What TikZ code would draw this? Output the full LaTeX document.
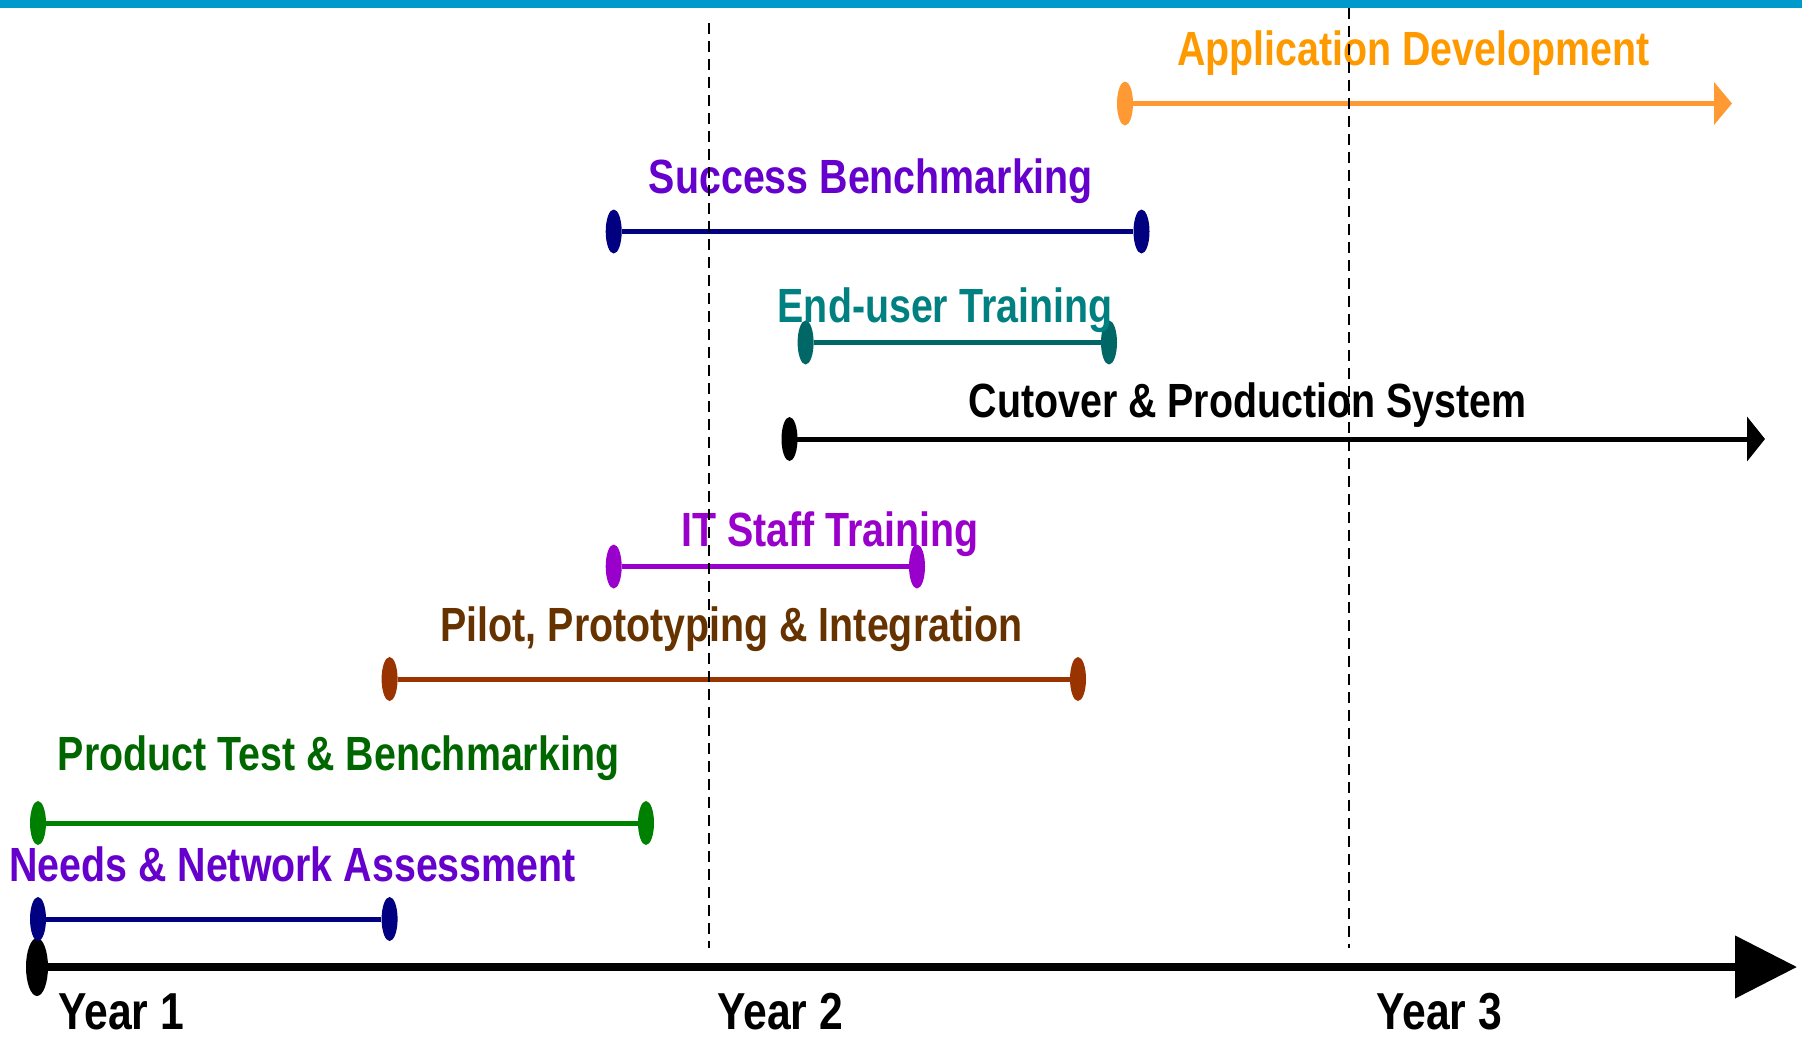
\documentclass[tikz,border=0pt]{standalone}
\usepackage{fontspec}
\setmainfont{Liberation Sans}[FakeStretch=0.82]
\usetikzlibrary{shapes.geometric,arrows.meta}

\definecolor{barblue}{HTML}{0099CC}
\definecolor{orangeT}{HTML}{FF9900}
\definecolor{orangeL}{HTML}{FF9933}
\definecolor{purpleT}{HTML}{6600CC}
\definecolor{navyL}{HTML}{000080}
\definecolor{tealT}{HTML}{008080}
\definecolor{tealL}{HTML}{006666}
\definecolor{violetT}{HTML}{9900CC}
\definecolor{brownT}{HTML}{663300}
\definecolor{rustL}{HTML}{993300}
\definecolor{greenT}{HTML}{006600}
\definecolor{greenL}{HTML}{008000}

\newcommand{\tasksize}{\fontsize{48bp}{50bp}\selectfont\bfseries}
\newcommand{\yearsize}{\fontsize{52bp}{54bp}\selectfont\bfseries}

\tikzset{
  endmark/.style={shape=ellipse, minimum width=16bp, minimum height=44bp,
                  inner sep=0pt, draw=none, fill=#1},
  tasklabel/.style={anchor=base, inner sep=0pt, text=#1, font=\tasksize},
  yearlabel/.style={anchor=base west, inner sep=0pt, text=black, font=\yearsize},
  spanline/.style={line width=5bp, draw=#1},
  opentip/.style={-{Triangle[length=18bp,width=42bp]}},
  yeardiv/.style={line width=2.6bp, draw=black, dash pattern=on 11bp off 7bp},
}

\begin{document}
\begin{tikzpicture}[x=1bp, y=-1bp]
  \useasboundingbox (0,0) rectangle (1802,1038);
  % banner strip
  \fill[barblue] (0,0) rectangle (1802,7.5);

  % time axis
  \node[endmark=black, minimum width=22bp, minimum height=58bp] (ax0) at (37,967) {};
  \coordinate (ax1) at (1797,967);
  \draw[line width=8bp, -{Triangle[length=62bp,width=61bp]}] (ax0.center) -- (ax1);
  \node[yearlabel] (y1) at (58,1029) {Year 1};
  \node[yearlabel] (y2) at (717,1029) {Year 2};
  \node[yearlabel] (y3) at (1376,1029) {Year 3};

  % Application Development
  \node[endmark=orangeL] (ad1) at (1125,103.5) {};
  \coordinate (ad2) at (1732,103.5);
  \draw[spanline=orangeL, opentip] (ad1.center) -- (ad2);
  \node[tasklabel=orangeT] (adt) at (1413.5,65.7) {Application Development};

  % Success Benchmarking
  \node[endmark=navyL] (sb1) at (613.7,231.5) {};
  \node[endmark=navyL] (sb2) at (1141.5,231.5) {};
  \draw[spanline=navyL] (sb1) -- (sb2);
  \node[tasklabel=purpleT] (sbt) at (871,193) {Success Benchmarking};

  % End-user Training
  \node[endmark=tealL] (eu1) at (805.6,342.5) {};
  \node[endmark=tealL] (eu2) at (1109,342.5) {};
  \draw[spanline=tealL] (eu1) -- (eu2);
  \node[tasklabel=tealT] (eut) at (945,322) {End-user Training};

  % Cutover & Production System
  \node[endmark=black] (cp1) at (789.5,439) {};
  \coordinate (cp2) at (1765,439);
  \draw[spanline=black, -{Triangle[length=18bp,width=44bp]}] (cp1.center) -- (cp2);
  \node[tasklabel=black] (cpt) at (1247.5,417) {Cutover \& Production System};

  % IT Staff Training
  \node[endmark=violetT] (it1) at (613.7,566.5) {};
  \node[endmark=violetT] (it2) at (917,566.5) {};
  \draw[spanline=violetT] (it1) -- (it2);
  \node[tasklabel=violetT] (itt) at (830,546) {IT Staff Training};

  % Pilot, Prototyping & Integration
  \node[endmark=rustL] (pp1) at (389.6,679) {};
  \node[endmark=rustL] (pp2) at (1078,679) {};
  \draw[spanline=rustL] (pp1) -- (pp2);
  \node[tasklabel=brownT] (ppt) at (731.5,641.5) {Pilot, Prototyping \& Integration};

  % Product Test & Benchmarking
  \node[endmark=greenL] (pt1) at (38,823) {};
  \node[endmark=greenL] (pt2) at (646,823) {};
  \draw[spanline=greenL] (pt1) -- (pt2);
  \node[tasklabel=greenT] (ptt) at (338.5,770) {Product Test \& Benchmarking};

  % Needs & Network Assessment
  \node[endmark=navyL] (nn1) at (38,919) {};
  \node[endmark=navyL] (nn2) at (389.6,919) {};
  \draw[spanline=navyL] (nn1) -- (nn2);
  \node[tasklabel=purpleT] (nnt) at (292.5,881.5) {Needs \& Network Assessment};

  % year dividers
  \coordinate (d1t) at (709,23);
  \coordinate (d1b) at (709,948);
  \coordinate (d2t) at (1349,7.5);
  \coordinate (d2b) at (1349,948);
  \draw[yeardiv] (d1t) -- (d1b);
  \draw[yeardiv] (d2t) -- (d2b);
\end{tikzpicture}
\end{document}
